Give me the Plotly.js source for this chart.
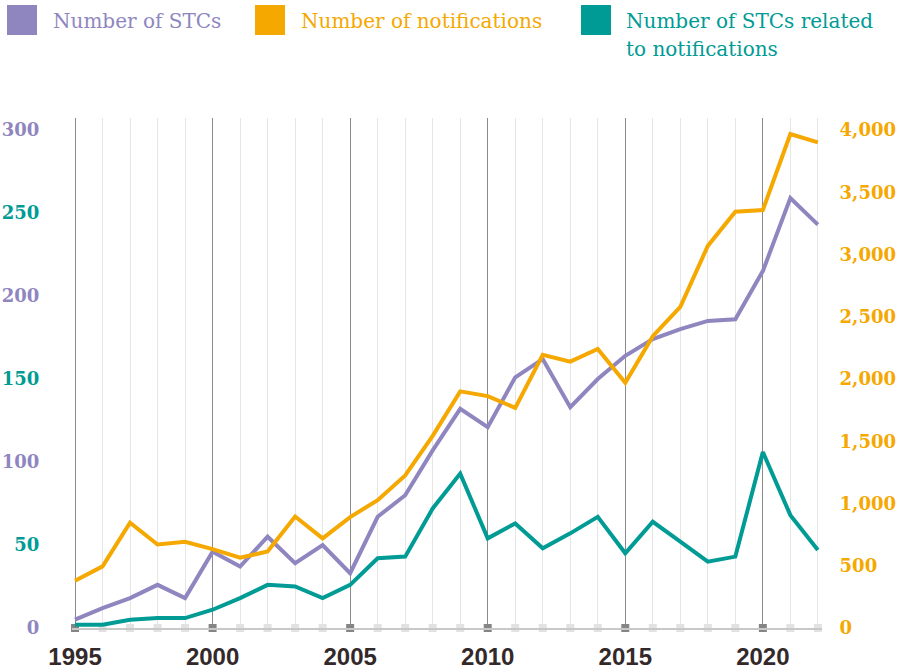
<!DOCTYPE html>
<html>
<head>
<meta charset="utf-8">
<script src="https://cdn.plot.ly/plotly-3.0.1.min.js"></script>
<style>
  html, body { margin: 0; padding: 0; background: #ffffff; }
  #chart { width: 911px; height: 671px; }
</style>
</head>
<body>
<div id="chart"></div>
<script>
// ---- Data ----
const years = [1995,1996,1997,1998,1999,2000,2001,2002,2003,2004,2005,2006,2007,2008,2009,2010,2011,2012,2013,2014,2015,2016,2017,2018,2019,2020,2021,2022];
const stcs = [5,12,18,26,18,46,37,55,39,50,33,67,80,107,132,121,151,162,133,150,164,174,180,185,186,215,259,243];
const notifications = [380,495,845,671,692,633,565,614,896,720,891,1027,1225,1543,1901,1863,1768,2195,2140,2241,1969,2344,2580,3069,3343,3357,3968,3900];
const relatedStcs = [2,2,5,6,6,11,18,26,25,18,26,42,43,72,93,54,63,48,57,67,45,64,52,40,43,106,68,47];

const seriesNames = ["Number of STCs", "Number of notifications", "Number of STCs related to notifications"];
const leftTickVals = [0,50,100,150,200,250,300];
const rightTickVals = [0,500,1000,1500,2000,2500,3000,3500,4000];
const xTickVals = [1995,2000,2005,2010,2015,2020];

// ---- Styles ----
const PURPLE = "#8f86c0";
const ORANGE = "#f5a800";
const TEAL = "#009b95";
const DARK = "#33292a";

const W = 911, H = 671;
const M = {l: 72, r: 89, t: 118, b: 43};
const PW = W - M.l - M.r, PH = H - M.t - M.b;
const px = x => (x - M.l) / PW;
const py = y => (M.t + PH - y) / PH;

const leftMax = PH / 1.66;          // left axis range top
const rightMax = leftMax * 4000 / 300;

const leftTickText = leftTickVals.map((v, i) =>
  `<span style="color:${i % 2 === 1 ? TEAL : PURPLE}">${v}</span>`);

const traces = [
  {
    x: years, y: years.map(() => 0), type: "scatter", mode: "markers",
    marker: {symbol: "square", size: 8,
             color: years.map(y => y % 5 === 0 ? "#858585" : "#e2e2e2")},
    cliponaxis: false, hoverinfo: "skip", showlegend: false
  },
  {
    x: years, y: notifications, name: seriesNames[1], yaxis: "y2",
    type: "scatter", mode: "lines", line: {color: ORANGE, width: 4},
    showlegend: false, cliponaxis: false
  },
  {
    x: years, y: stcs, name: seriesNames[0],
    type: "scatter", mode: "lines", line: {color: PURPLE, width: 4},
    showlegend: false, cliponaxis: false
  },
  {
    x: years, y: relatedStcs, name: seriesNames[2],
    type: "scatter", mode: "lines", line: {color: TEAL, width: 4},
    showlegend: false, cliponaxis: false
  }
];

// Legend (squares + text)
const legendItems = [
  {color: PURPLE, sq: 7, tx: 52, lines: [seriesNames[0]]},
  {color: ORANGE, sq: 255, tx: 300, lines: [seriesNames[1]]},
  {color: TEAL, sq: 581, tx: 625, lines: ["Number of STCs related", "to notifications"]}
];
const shapes = legendItems.map(it => ({
  type: "rect", xref: "paper", yref: "paper",
  x0: px(it.sq), x1: px(it.sq + 30), y0: py(35), y1: py(5),
  fillcolor: it.color, line: {width: 0}
}));
const annotations = [];
legendItems.forEach(it => {
  it.lines.forEach((ln, k) => {
    annotations.push({
      xref: "paper", yref: "paper", x: px(it.tx), y: py(21 + k * 28),
      xanchor: "left", yanchor: "middle", align: "left", showarrow: false,
      text: ln, borderpad: 0,
      font: {family: "DejaVu Serif", size: 20, color: it.color}
    });
  });
});

const layout = {
  width: W, height: H,
  margin: M,
  paper_bgcolor: "#ffffff", plot_bgcolor: "#ffffff",
  showlegend: false,
  xaxis: {
    range: [1994.89, 2022.15], fixedrange: true,
    tickvals: xTickVals, ticktext: xTickVals.map(String),
    showgrid: true, gridcolor: "#8a8a8a", gridwidth: 1,
    minor: {dtick: 1, tick0: 1995, showgrid: true, gridcolor: "#e6e6e6", gridwidth: 1, ticks: ""},
    ticks: "outside", ticklen: 6, tickcolor: "rgba(0,0,0,0)",
    showline: true, linecolor: "#c8c8c8", linewidth: 2,
    zeroline: false,
    tickfont: {family: "Liberation Sans", size: 24, color: DARK, weight: "bold"}
  },
  yaxis: {
    range: [0, leftMax], fixedrange: true,
    tickvals: leftTickVals, ticktext: leftTickText,
    showgrid: false, zeroline: false, showline: false,
    ticks: "outside", ticklen: 28, tickcolor: "rgba(0,0,0,0)",
    tickfont: {family: "DejaVu Serif", size: 18, color: PURPLE, weight: "bold"}
  },
  yaxis2: {
    range: [0, rightMax], overlaying: "y", side: "right", fixedrange: true,
    tickvals: rightTickVals, tickformat: ",",
    showgrid: false, zeroline: false, showline: false,
    ticks: "outside", ticklen: 13, tickcolor: "rgba(0,0,0,0)",
    tickfont: {family: "DejaVu Serif", size: 18, color: ORANGE, weight: "bold"}
  },
  shapes: shapes,
  annotations: annotations
};

Plotly.newPlot("chart", traces, layout, {displayModeBar: false, staticPlot: true});
</script>
</body>
</html>
